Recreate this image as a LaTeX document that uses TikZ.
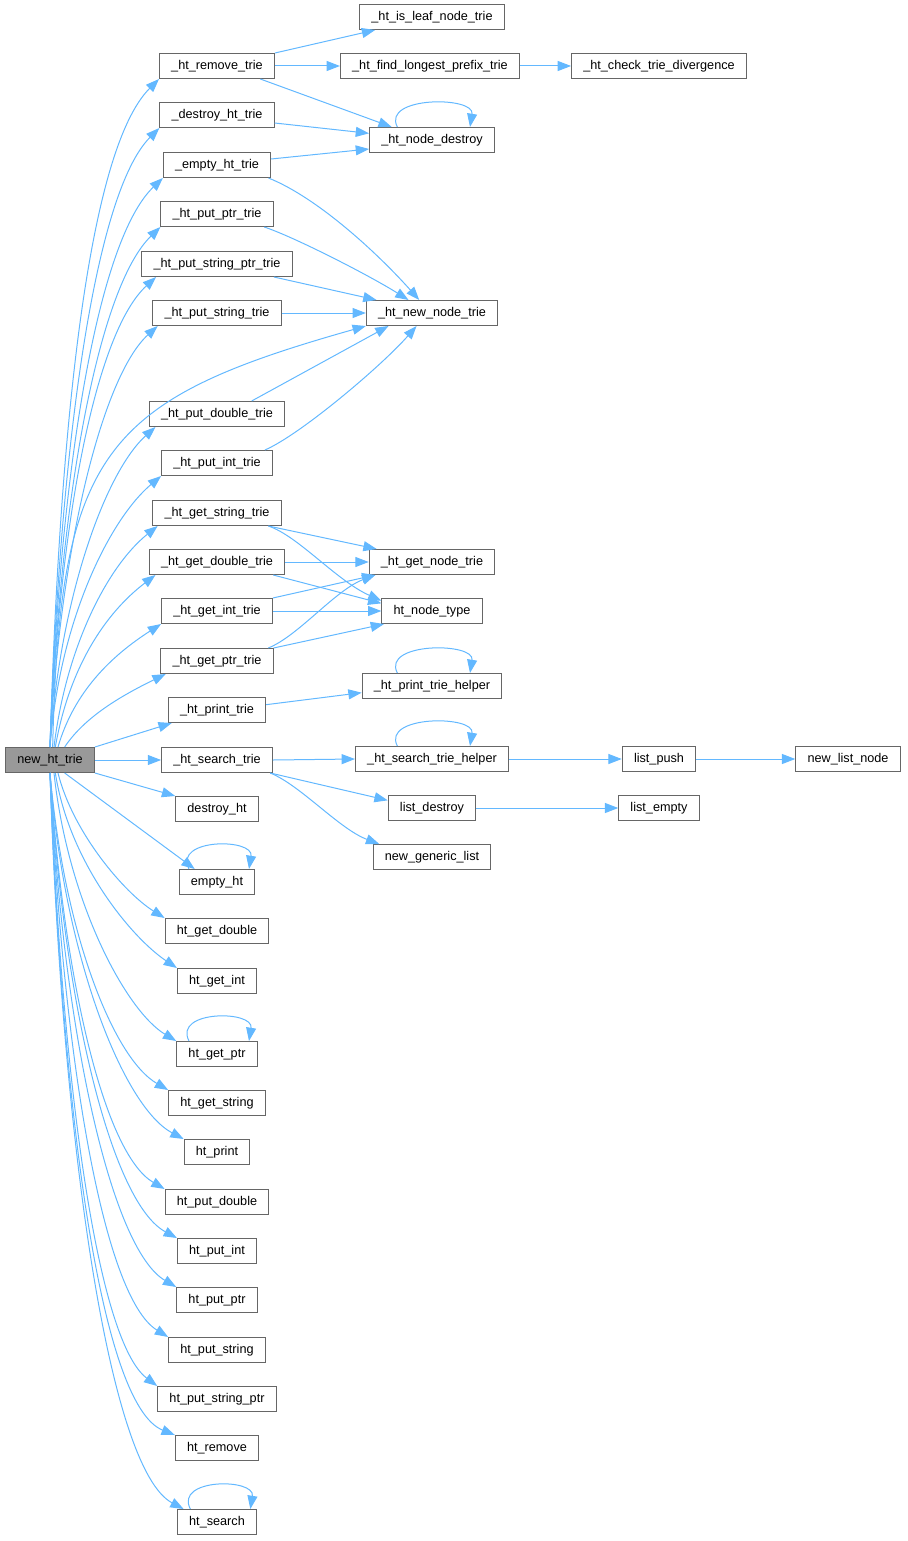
\documentclass[tikz,border=0pt]{standalone}
\usepackage{fontspec}
\setmainfont{Liberation Sans}
\usepackage{tikz}
\usetikzlibrary{arrows.meta}
\definecolor{edgeblue}{HTML}{63B8FF}
\definecolor{boxgray}{HTML}{666666}
\definecolor{rootgray}{HTML}{999999}
\tikzstyle{fn} = [draw=boxgray, line width=0.75pt, fill=white,
	font=\fontsize{9.5}{11}\selectfont,
	inner xsep=8.8pt, inner ysep=0pt,
	minimum height=18.75pt]
\tikzstyle{rootfn} = [fn, fill=rootgray]
\tikzstyle{call} = [draw=edgeblue, line width=0.75pt, -{Triangle[length=10pt, width=7.5pt]}]
\newcommand{\selfcall}[3]{\draw [call] ([xshift=#2]#1.north)
	.. controls +(-16,31) and +(5,31) .. ([xshift=#3]#1.north)}

\begin{document}
\begin{tikzpicture}[x=0.75pt, y=0.75pt]
			\useasboundingbox (0,0) rectangle (907,-1541);
			\node (root) [rootfn] at (50,-760) {new\_ht\_trie};
			
			% first level
			\node (rmv) [fn] at (217,-66) {\_ht\_remove\_trie};
			\node (dht) [fn] at (217,-115) {\_destroy\_ht\_trie};
			\node (eht) [fn] at (217,-165) {\_empty\_ht\_trie};
			\node (pptr) [fn] at (217,-214) {\_ht\_put\_ptr\_trie};
			\node (pstrptr) [fn] at (217,-264) {\_ht\_put\_string\_ptr\_trie};
			\node (pstr) [fn] at (217,-313) {\_ht\_put\_string\_trie};
			\node (pdbl) [fn] at (217,-414) {\_ht\_put\_double\_trie};
			\node (pint) [fn] at (217,-463) {\_ht\_put\_int\_trie};
			\node (gstr) [fn] at (217,-513) {\_ht\_get\_string\_trie};
			\node (gdbl) [fn] at (217,-562) {\_ht\_get\_double\_trie};
			\node (gint) [fn] at (217,-611) {\_ht\_get\_int\_trie};
			\node (gptr) [fn] at (217,-661) {\_ht\_get\_ptr\_trie};
			\node (prt) [fn] at (217,-710) {\_ht\_print\_trie};
			\node (srch) [fn] at (217,-760) {\_ht\_search\_trie};
			\node (destroy) [fn] at (217,-809) {destroy\_ht};
			\node (emptyht) [fn] at (217,-882) {empty\_ht};
			\node (getdbl) [fn] at (217,-931) {ht\_get\_double};
			\node (getint) [fn] at (217,-981) {ht\_get\_int};
			\node (getptr) [fn] at (217,-1054) {ht\_get\_ptr};
			\node (getstr) [fn] at (217,-1103) {ht\_get\_string};
			\node (print) [fn] at (217,-1152) {ht\_print};
			\node (putdbl) [fn] at (217,-1202) {ht\_put\_double};
			\node (putint) [fn] at (217,-1251) {ht\_put\_int};
			\node (putptr) [fn] at (217,-1300) {ht\_put\_ptr};
			\node (putstr) [fn] at (217,-1350) {ht\_put\_string};
			\node (putstrptr) [fn] at (217,-1399) {ht\_put\_string\_ptr};
			\node (remove) [fn] at (217,-1448) {ht\_remove};
			\node (search) [fn] at (217,-1522) {ht\_search};
			
			% second level and beyond
			\node (isleaf) [fn] at (432,-17) {\_ht\_is\_leaf\_node\_trie};
			\node (flp) [fn] at (430,-66) {\_ht\_find\_longest\_prefix\_trie};
			\node (nd) [fn] at (432,-140) {\_ht\_node\_destroy};
			\node (nnt) [fn] at (432,-313) {\_ht\_new\_node\_trie};
			\node (gnt) [fn] at (432,-562) {\_ht\_get\_node\_trie};
			\node (hnt) [fn] at (432,-611) {ht\_node\_type};
			\node (pth) [fn] at (432,-686) {\_ht\_print\_trie\_helper};
			\node (sth) [fn] at (432,-759) {\_ht\_search\_trie\_helper};
			\node (ldest) [fn] at (432,-808) {list\_destroy};
			\node (ngl) [fn] at (432,-857) {new\_generic\_list};
			\node (ctd) [fn] at (659,-66) {\_ht\_check\_trie\_divergence};
			\node (lpush) [fn] at (659,-759) {list\_push};
			\node (lempty) [fn] at (659,-808) {list\_empty};
			\node (nln) [fn] at (848,-759) {new\_list\_node};
			
			% calls going up
			\draw [call] (root.north) .. controls +(10,330) and +(-70,-70) .. (rmv.south west);
			\draw [call] (root.north) .. controls +(10,300) and +(-65,-65) .. (dht.south west);
			\draw [call] (root.north) .. controls +(10,280) and +(-65,-62) .. (eht.south west);
			\draw [call] (root.north) .. controls +(10,250) and +(-62,-60) .. (pptr.south west);
			\draw [call] (root.north) .. controls +(10,230) and +(-60,-55) .. ([xshift=11pt]pstrptr.south west);
			\draw [call] (root.north) .. controls +(10,200) and +(-55,-50) .. ([xshift=4pt]pstr.south west);
			\draw [call] ([xshift=2pt]root.north) .. controls +(7,297) and +(-262,-74) .. (nnt.south west);
			\draw [call] (root.north) .. controls +(10,150) and +(-50,-45) .. ([xshift=5pt]pdbl.south west);
			\draw [call] (root.north) .. controls +(10,130) and +(-50,-42) .. (pint.south west);
			\draw [call] ([xshift=3pt]root.north) .. controls +(12,100) and +(-50,-40) .. ([xshift=4pt]gstr.south west);
			\draw [call] ([xshift=4pt]root.north) .. controls +(14,80) and +(-50,-38) .. ([xshift=5pt]gdbl.south west);
			\draw [call] ([xshift=6pt]root.north) .. controls +(16,55) and +(-50,-32) .. (gint.south west);
			\draw [call] ([xshift=11pt]root.north) .. controls +(20,30) and +(-45,-22) .. ([xshift=4pt]gptr.south west);
			\draw [call] (root.north east) -- ([xshift=3pt]prt.south west);
			\draw [call] (root.east) -- (srch.west);
			
			% calls going down
			\draw [call] (root.south east) -- (destroy.north west);
			\draw [call] ([xshift=11pt]root.south) -- ([xshift=12pt]emptyht.north west);
			\draw [call] ([xshift=6pt]root.south) .. controls +(15,-60) and +(-40,25) .. (getdbl.north west);
			\draw [call] ([xshift=4pt]root.south) .. controls +(14,-90) and +(-45,30) .. (getint.north west);
			\draw [call] ([xshift=3pt]root.south) .. controls +(14,-130) and +(-50,30) .. (getptr.north west);
			\draw [call] (root.south) .. controls +(14,-160) and +(-55,32) .. (getstr.north west);
			\draw [call] (root.south) .. controls +(14,-185) and +(-60,32) .. (print.north west);
			\draw [call] (root.south) .. controls +(14,-210) and +(-60,35) .. (putdbl.north west);
			\draw [call] (root.south) .. controls +(14,-235) and +(-65,35) .. (putint.north west);
			\draw [call] (root.south) .. controls +(13,-260) and +(-65,38) .. (putptr.north west);
			\draw [call] (root.south) .. controls +(13,-285) and +(-65,40) .. (putstr.north west);
			\draw [call] (root.south) .. controls +(12,-310) and +(-60,45) .. (putstrptr.north west);
			\draw [call] (root.south) .. controls +(12,-335) and +(-75,30) .. (remove.north west);
			\draw [call] (root.south) .. controls +(12,-370) and +(-75,40) .. ([xshift=5pt]search.north west);
			
			% first level to second level
			\draw [call] (rmv.north east) -- ([xshift=12pt]isleaf.south west);
			\draw [call] (rmv.east) -- (flp.west);
			\draw [call] ([xshift=-11pt]rmv.south east) -- ([xshift=17pt]nd.north west);
			\draw [call] ([yshift=-6pt]dht.east) -- ([yshift=5pt]nd.west);
			\draw [call] ([yshift=4.5pt]eht.east) -- ([yshift=-6.75pt]nd.west);
			\draw [call] ([xshift=-2pt]eht.south east) .. controls +(50,-20) and +(-40,45) .. ([xshift=40pt]nnt.north west);
			\draw [call] ([xshift=-7pt]pptr.south east) .. controls +(30,-10) and +(-40,25) .. ([xshift=32pt]nnt.north west);
			\draw [call] ([xshift=-14pt]pstrptr.south east) -- ([xshift=8pt]nnt.north west);
			\draw [call] (pstr.east) -- (nnt.west);
			\draw [call] ([xshift=26pt]pdbl.north) -- ([xshift=17pt]nnt.south west);
			\draw [call] ([xshift=-6pt]pint.north east) .. controls +(35,15) and +(-35,-40) .. ([xshift=38pt]nnt.south west);
			\draw [call] ([xshift=-10pt]gstr.south east) -- ([xshift=6pt]gnt.north west);
			\draw [call] ([xshift=-10pt]gstr.south east) .. controls +(30,-10) and +(-45,20) .. ([yshift=-2pt]hnt.north west);
			\draw [call] (gdbl.east) -- (gnt.west);
			\draw [call] ([xshift=-9pt]gdbl.south east) -- ([yshift=-4pt]hnt.north west);
			\draw [call] (gint.north east) -- ([xshift=5pt]gnt.south west);
			\draw [call] (gint.east) -- (hnt.west);
			\draw [call] ([xshift=-4pt]gptr.north east) .. controls +(30,12) and +(-40,-15) .. ([xshift=5pt]gnt.south west);
			\draw [call] (gptr.north east) -- ([xshift=2pt]hnt.south west);
			\draw [call] ([yshift=4pt]prt.east) -- ([yshift=-5pt]pth.west);
			\draw [call] (srch.east) -- (sth.west);
			\draw [call] ([xshift=-2pt]srch.south east) -- ([yshift=-4pt]ldest.north west);
			\draw [call] ([xshift=-2pt]srch.south east) .. controls +(30,-12) and +(-40,15) .. ([xshift=5pt]ngl.north west);
			
			% deeper calls
			\draw [call] (flp.east) -- (ctd.west);
			\draw [call] (sth.east) -- (lpush.west);
			\draw [call] (lpush.east) -- (nln.west);
			\draw [call] (ldest.east) -- (lempty.west);
			
			% recursion
			\selfcall{nd}{-26pt}{28.5pt};
			\selfcall{pth}{-26pt}{28.5pt};
			\selfcall{sth}{-26pt}{28.5pt};
			\selfcall{emptyht}{-21pt}{24pt};
			\selfcall{getptr}{-21pt}{24pt};
			\selfcall{search}{-20pt}{25pt};
		\end{tikzpicture}
\end{document}
